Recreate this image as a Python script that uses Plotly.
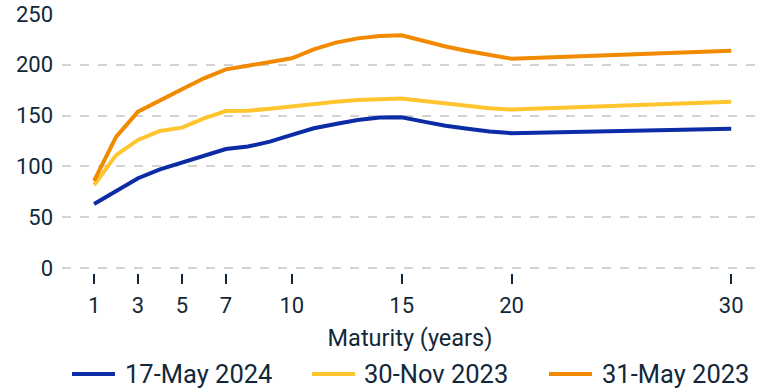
import plotly.graph_objects as go

# Maturities in years
maturity = [1, 2, 3, 4, 5, 6, 7, 8, 9, 10, 11, 12, 13, 14, 15, 16, 17, 18, 19, 20, 30]

# Spread curves (bps) for each observation date
may_2024 = [63, 76, 88.3, 97, 103.6, 111, 117, 119.5, 124.3, 131, 137.5, 141.7, 145.7, 148, 148.3,
            144, 140, 137, 134.3, 132.7, 137.1]
nov_2023 = [81.7, 111, 126, 134.8, 138.1, 147.3, 154.5, 154.8, 156.8, 159.4, 161.1, 163.7, 165.4, 166.3, 166.8,
            164.4, 161.8, 159.5, 157.3, 156, 163.7]
may_2023 = [85.6, 129, 153.9, 165.4, 175.9, 186.7, 195.5, 199.1, 203, 206.4, 215.2, 221.8, 226, 228.3, 229,
            223, 218, 213.5, 209.3, 206, 213.9]

series_names = ["17-May 2024", "30-Nov 2023", "31-May 2023"]
series_values = [may_2024, nov_2023, may_2023]
series_colors = ["#0B2CA5", "#FFC52E", "#F28A00"]

x_ticks = [1, 3, 5, 7, 10, 15, 20, 30]
y_ticks = [0, 50, 100, 150, 200, 250]

TEXT = "#12283A"
FONT = "Roboto, Arial, sans-serif"

W, H = 758, 390
fig = go.Figure()
for name, vals, col in zip(series_names, series_values, series_colors):
    fig.add_trace(go.Scatter(x=maturity, y=vals, mode="lines", name=name,
                             line=dict(color=col, width=4), showlegend=False))

# Legend drawn as line swatches plus labels along the bottom
legend_items = [(72, 115, 123), (312, 355, 362), (549, 592, 600)]
legend_y = 374
for (x0, x1, xt), name, col in zip(legend_items, series_names, series_colors):
    fig.add_shape(type="line", xref="paper", yref="paper",
                  x0=(x0 - 62) / (W - 62), x1=(x1 - 62) / (W - 62),
                  y0=(273 - legend_y) / (273 - 14), y1=(273 - legend_y) / (273 - 14),
                  line=dict(color=col, width=4))
    fig.add_annotation(xref="paper", yref="paper", x=(xt - 62) / (W - 62),
                       y=(273 - legend_y) / (273 - 14), text=name, showarrow=False,
                       xanchor="left", yanchor="middle",
                       font=dict(family=FONT, size=25.5, color=TEXT))

fig.update_layout(
    width=W, height=H,
    margin=dict(l=62, r=0, t=14, b=117),
    paper_bgcolor="white", plot_bgcolor="white",
    font=dict(family=FONT, color=TEXT, size=22),
    showlegend=False,
    xaxis=dict(range=[-0.46, 31.22], tickmode="array", tickvals=x_ticks,
               ticktext=[str(t) for t in x_ticks], ticks="outside", ticklen=10,
               tickwidth=2, tickcolor=TEXT, showgrid=False, zeroline=False,
               showline=False, tickfont=dict(size=22, color=TEXT), ticklabelstandoff=3,
               title=dict(text="Maturity (years)", font=dict(size=23.5, color=TEXT), standoff=12)),
    yaxis=dict(range=[-5, 250], tickmode="array", tickvals=y_ticks,
               showgrid=True, gridcolor="#D3D3D3", gridwidth=2, griddash="dash",
               zeroline=False, showline=False, ticks="", ticklabelstandoff=8,
               tickfont=dict(size=22, color=TEXT)),
)

fig.write_html("out.html")
